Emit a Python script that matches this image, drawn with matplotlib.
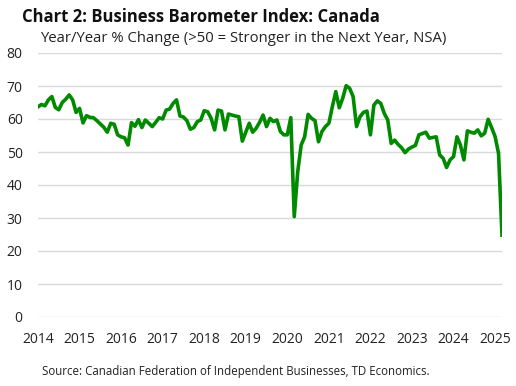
import numpy as np
import matplotlib
matplotlib.use('Agg')
import matplotlib.pyplot as plt

# Monthly index, Jan 2014 - Mar 2025
index_values = [
    63.7, 64.4, 64.0, 65.8, 66.8, 63.5, 62.8, 65.0, 66.0, 67.3, 65.8, 62.0,   # 2014
    63.2, 58.8, 61.0, 60.5, 60.4, 59.5, 58.5, 57.5, 56.0, 58.7, 58.4, 55.2,   # 2015
    54.6, 54.3, 52.1, 58.9, 57.8, 59.8, 57.4, 59.7, 58.7, 57.7, 59.0, 60.4,   # 2016
    60.0, 62.7, 63.0, 64.7, 65.8, 60.9, 60.6, 59.5, 56.9, 57.4, 59.2, 59.7,   # 2017
    62.5, 62.2, 60.2, 56.7, 62.7, 62.4, 56.7, 61.5, 61.2, 60.9, 60.7, 53.3,   # 2018
    56.0, 58.7, 56.0, 57.2, 59.0, 61.2, 57.7, 60.2, 59.2, 59.7, 56.2, 55.2,   # 2019
    55.2, 60.4, 30.4, 44.0, 52.1, 54.6, 61.4, 60.2, 59.5, 53.1, 56.2, 57.7,   # 2020
    58.7, 63.7, 68.3, 63.4, 66.3, 70.1, 69.3, 66.8, 57.7, 60.7, 62.0, 62.4,   # 2021
    55.2, 64.2, 65.5, 64.7, 61.7, 59.7, 52.6, 53.6, 52.3, 51.3, 49.8, 50.9,   # 2022
    51.5, 52.0, 55.2, 55.6, 56.0, 54.2, 54.4, 54.6, 49.1, 48.1, 45.3, 47.6,   # 2023
    48.6, 54.6, 52.1, 47.6, 56.4, 56.0, 55.7, 56.7, 54.9, 55.7, 59.9, 57.4,   # 2024
    54.7, 49.6, 24.8,                                                         # 2025
]
years = list(range(2014, 2026))
y_ticks = [0, 10, 20, 30, 40, 50, 60, 70, 80]

dates = 2014 + np.arange(len(index_values)) / 12.0

plt.rcParams['font.family'] = ['Open Sans', 'DejaVu Sans']

fig = plt.figure(figsize=(5.16, 3.86), dpi=100)
ax = fig.add_axes([38 / 516, 1 - 317 / 386, (502 - 38) / 516, (317 - 53) / 386])

ax.plot(dates, index_values, color='#008a00', linewidth=2.6, solid_joinstyle='round')

ax.set_xlim(dates[0], dates[-1])
ax.set_ylim(0, 80)
ax.set_xticks(years)
ax.set_xticklabels([str(y) for y in years])
ax.set_yticks(y_ticks)
ax.yaxis.grid(True, color='#d9d9d9', linewidth=1.0)
ax.set_axisbelow(True)
for s in ax.spines.values():
    s.set_visible(False)
ax.tick_params(axis='both', length=0, labelsize=10, colors='#222222')
ax.tick_params(axis='y', pad=11)
ax.tick_params(axis='x', pad=11)

fig.text(22 / 516, 1 - 17 / 386, 'Chart 2: Business Barometer Index: Canada',
         fontsize=12, fontweight='bold', va='center', ha='left', color='#111111')
fig.text(40 / 516, 1 - 38 / 386, 'Year/Year % Change (>50 = Stronger in the Next Year, NSA)',
         fontsize=10.7, va='center', ha='left', color='#222222')
fig.text(42 / 516, 1 - 372 / 386, 'Source: Canadian Federation of Independent Businesses, TD Economics.',
         fontsize=8.3, va='center', ha='left', color='#222222')

fig.savefig('out.png', dpi=100)
